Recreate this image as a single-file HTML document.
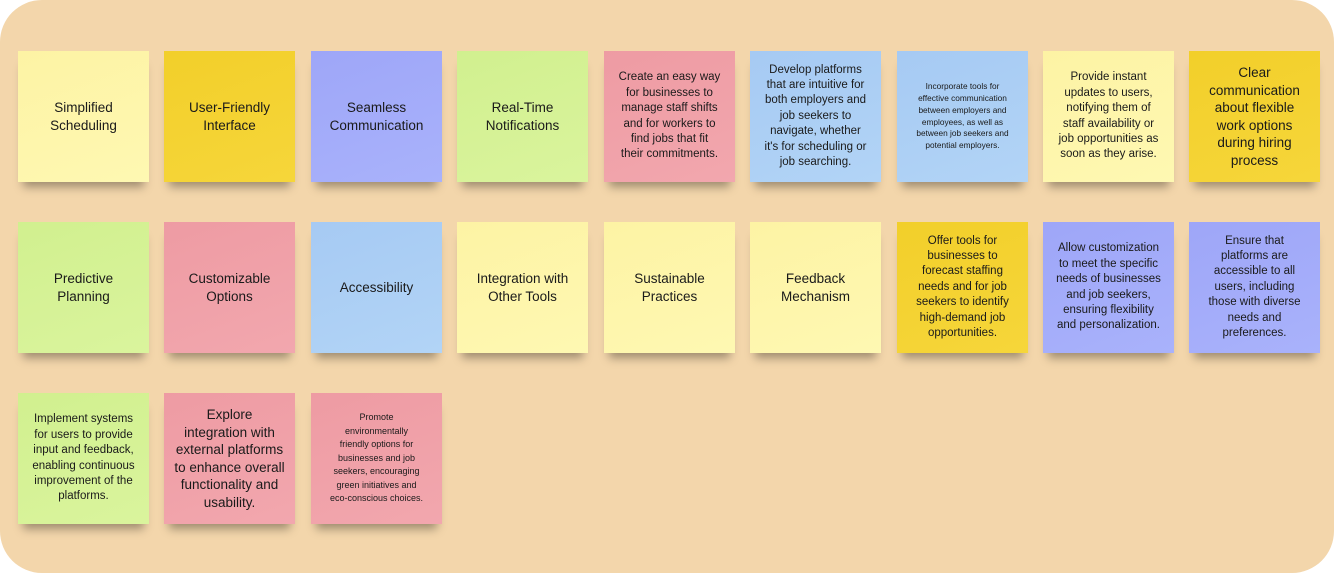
<!DOCTYPE html>
<html><head><meta charset="utf-8"><style>
html,body{margin:0;padding:0;background:#fff;}
body{width:1334px;height:573px;position:relative;overflow:hidden;font-family:"Liberation Sans",sans-serif;}
.bg{position:absolute;left:0;top:0;width:1334px;height:573px;background:#f3d6ab;border-radius:42px;}
.n{position:absolute;width:131px;height:131px;display:flex;align-items:center;justify-content:center;text-align:center;color:#1a1a1a;box-sizing:border-box;padding:2px;white-space:nowrap;box-shadow:0 10px 9px -5px rgba(0,0,0,0.35);}
.t{font-size:13.5px;line-height:17.5px;}
.m{font-size:11.5px;line-height:15.4px;}
.s{font-size:8.3px;line-height:11.8px;}
.ly{background:linear-gradient(160deg,#fdf3a4,#fef8b2);}
.y{background:linear-gradient(160deg,#f2cf2a,#f6d63a);}
.p{background:linear-gradient(160deg,#9ea6f8,#a9b2fb);}
.g{background:linear-gradient(160deg,#d1f08f,#daf49d);}
.r{background:linear-gradient(160deg,#ee9ba3,#f2a7ae);}
.b{background:linear-gradient(160deg,#a6caf3,#b2d4f6);}
</style></head><body>
<div class="bg"></div>
<div class="n ly t" style="left:18px;top:51px">Simplified<br>Scheduling</div>
<div class="n y t" style="left:164px;top:51px">User-Friendly<br>Interface</div>
<div class="n p t" style="left:311px;top:51px">Seamless<br>Communication</div>
<div class="n g t" style="left:457px;top:51px">Real-Time<br>Notifications</div>
<div class="n r m" style="left:604px;top:51px">Create an easy way<br>for businesses to<br>manage staff shifts<br>and for workers to<br>find jobs that fit<br>their commitments.</div>
<div class="n b m" style="left:750px;top:51px">Develop platforms<br>that are intuitive for<br>both employers and<br>job seekers to<br>navigate, whether<br>it's for scheduling or<br>job searching.</div>
<div class="n b s" style="left:897px;top:51px">Incorporate tools for<br>effective communication<br>between employers and<br>employees, as well as<br>between job seekers and<br>potential employers.</div>
<div class="n ly m" style="left:1043px;top:51px">Provide instant<br>updates to users,<br>notifying them of<br>staff availability or<br>job opportunities as<br>soon as they arise.</div>
<div class="n y t" style="left:1189px;top:51px">Clear<br>communication<br>about flexible<br>work options<br>during hiring<br>process</div>

<div class="n g t" style="left:18px;top:222px">Predictive<br>Planning</div>
<div class="n r t" style="left:164px;top:222px">Customizable<br>Options</div>
<div class="n b t" style="left:311px;top:222px">Accessibility</div>
<div class="n ly t" style="left:457px;top:222px">Integration with<br>Other Tools</div>
<div class="n ly t" style="left:604px;top:222px">Sustainable<br>Practices</div>
<div class="n ly t" style="left:750px;top:222px">Feedback<br>Mechanism</div>
<div class="n y m" style="left:897px;top:222px">Offer tools for<br>businesses to<br>forecast staffing<br>needs and for job<br>seekers to identify<br>high-demand job<br>opportunities.</div>
<div class="n p m" style="left:1043px;top:222px">Allow customization<br>to meet the specific<br>needs of businesses<br>and job seekers,<br>ensuring flexibility<br>and personalization.</div>
<div class="n p m" style="left:1189px;top:222px">Ensure that<br>platforms are<br>accessible to all<br>users, including<br>those with diverse<br>needs and<br>preferences.</div>

<div class="n g m" style="left:18px;top:393px">Implement systems<br>for users to provide<br>input and feedback,<br>enabling continuous<br>improvement of the<br>platforms.</div>
<div class="n r t" style="left:164px;top:393px">Explore<br>integration with<br>external platforms<br>to enhance overall<br>functionality and<br>usability.</div>
<div class="n r s" style="left:311px;top:393px;font-size:9px;line-height:13.5px">Promote<br>environmentally<br>friendly options for<br>businesses and job<br>seekers, encouraging<br>green initiatives and<br>eco-conscious choices.</div>
</body></html>
